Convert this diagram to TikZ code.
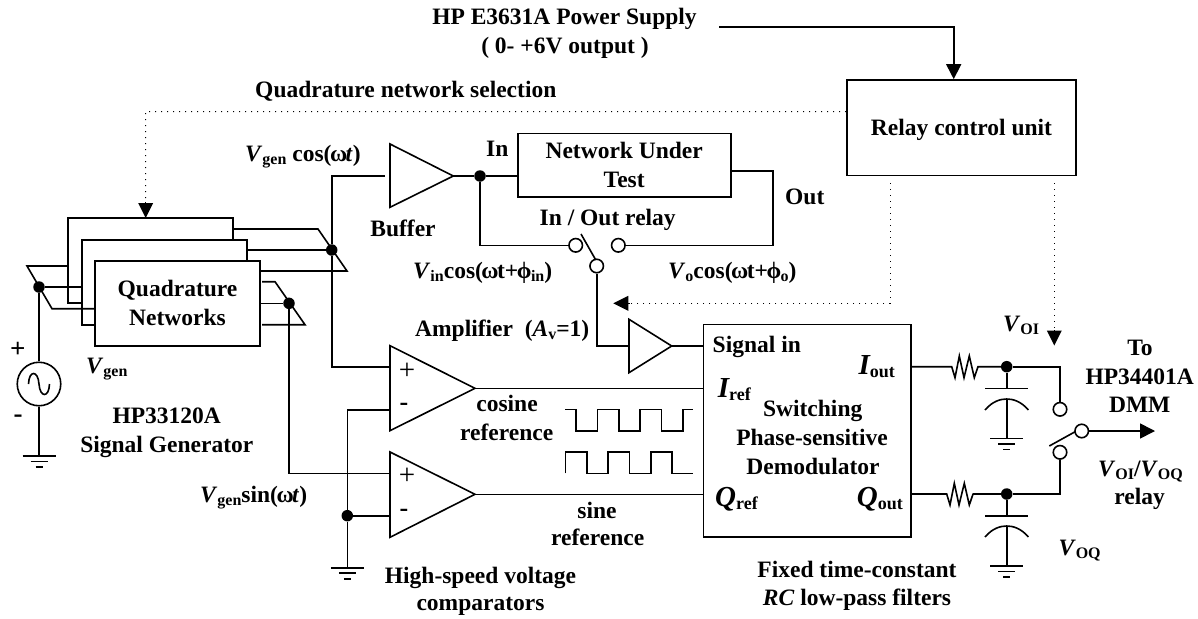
\documentclass[tikz,border=0pt]{standalone}
\usepackage{fontspec}
\setmainfont{Liberation Serif}
\usetikzlibrary{arrows.meta,calc}
\newcommand\ssub[2][16]{\raisebox{-3pt}{\fontsize{#1}{#1}\selectfont #2}}
\newcommand\bigit[1]{{\fontsize{29}{30}\selectfont\itshape #1}}
\newcommand\omg{\kern-1.5pt ω\kern-1.5pt}
\newcommand\phig{\kern-1.5pt ϕ\kern-0.5pt}
\tikzset{
  wire/.style={line width=1.6pt,line join=miter},
  box/.style={draw,line width=1.6pt,rectangle,inner sep=0pt,align=center,fill=white},
  txt/.style={inner sep=0pt,anchor=base},
  txtl/.style={inner sep=0pt,anchor=base west},
  jdot/.style={circle,fill=black,inner sep=0pt,minimum size=11.5pt},
  term/.style={circle,draw,line width=1.6pt,inner sep=0pt,minimum size=13.5pt,fill=white},
  dots/.style={line width=1pt,dash pattern=on 1pt off 5pt},
  head/.style={-{Triangle[length=15pt,width=15pt]}},
  gnd/.pic={
    \draw[wire] (-16.5,0) -- (16.5,0);
    \draw[wire] (-8.5,5.5) -- (8.5,5.5);
    \draw[wire] (-3.5,11) -- (3.5,11);
  }
}
\begin{document}
\begin{tikzpicture}[x=1pt,y=-1pt,every node/.append style={font=\bfseries\fontsize{23.5}{28.5}\selectfont}]
\useasboundingbox (0,0) rectangle (1198,618);

% ---- Quadrature network stack
\node[box,minimum width=165pt,minimum height=85pt] (q1) at (150.5,260.5) {};
\node[box,minimum width=165pt,minimum height=85pt] (q2) at (164.5,282.5) {};
\node[box,minimum width=165pt,minimum height=85pt] (q3) at (177.5,303.2) {Quadrature\\Networks};

% ---- Coordinates of connectors
\coordinate (pl1) at (68,266);
\coordinate (pl2) at (27,266);
\coordinate (pl3) at (52,308.7);
\node[jdot] (jl) at (39,287) {};
\coordinate (pr1) at (318,229);
\coordinate (pr2) at (347,271);
\node[jdot] (ju) at (331.7,250) {};
\coordinate (ps1) at (262,281.7);
\coordinate (ps2) at (275,281.7);
\coordinate (ps3) at (305,324.7);
\coordinate (ps4) at (262,324.7);
\node[jdot] (js) at (289,303.3) {};

% fan-out wires
\draw[wire] (pl1) -- (pl2) -- (pl3) -- (q3.west |- pl3);
\draw[wire] (jl) -- (q2.west |- jl);
\draw[wire] (q1.east |- pr1) -- (pr1) -- (pr2) -- (q3.east |- pr2);
\draw[wire] (q2.east |- ju) -- (ju);
\draw[wire] (ps1) -- (ps2) -- (ps3) -- (ps4);
\draw[wire] (q3.east |- js) -- (js);

% ---- Source
\node[circle,draw,line width=1.6pt,inner sep=0pt,minimum size=43.5pt] (src) at (39,384) {};
\draw[wire] (28.5,384) .. controls (29,370) and (38,370) .. (39,384) .. controls (40,398) and (49,398) .. (49.5,384);
\coordinate (g0) at (39,456);
\draw[wire] (jl) -- (src);
\draw[wire] (src) -- (g0);
\pic at (g0) {gnd};
\node[inner sep=0pt,font=\bfseries\fontsize{27}{27}\selectfont] (plus0) at (17.7,350) {+};
\node[inner sep=0pt,font=\bfseries\fontsize{27}{27}\selectfont] (minus0) at (18,419) {-};

% ---- Buffer
\coordinate (ba) at (390,144);
\coordinate (bb) at (390,207.3);
\coordinate (bt) at (453.3,176);
\coordinate (bi) at (385,176);
\draw[wire] (ba) -- (bt) -- (bb) -- cycle;
\node[jdot] (jin) at (480,176) {};
\node[box,minimum width=213pt,minimum height=63.7pt] (nut) at (624.2,165.2) {Network Under\\Test};
\draw[wire] (bt) -- (jin) -- (nut.west |- jin);

% ---- In/out relay
\node[term] (swa) at (575.7,245.3) {};
\node[term] (swb) at (618.3,245.3) {};
\node[term] (swc) at (596.7,266) {};
\coordinate (ar1) at (581,234);
\coordinate (ar2) at (595.5,259.5);
\coordinate (nout) at (772.7,170.7);
\draw[wire] (ar1) -- (ar2);
\draw[wire] (jin) |- (swa);
\draw[wire] (nut.east |- nout) -- (nout) |- (swb);

% ---- Amplifier
\coordinate (aa) at (629,319.3);
\coordinate (ab) at (629,372.7);
\coordinate (at) at (671.7,346);
\draw[wire] (aa) -- (at) -- (ab) -- cycle;
\draw[wire] (swc) |- (aa |- at);

% ---- Demodulator
\node[box,minimum width=207.4pt,minimum height=212.6pt] (dem) at (807,430.6) {};
\draw[wire] (at) -- (dem.west |- at);

% ---- Comparators
\coordinate (c1a) at (390,345.7);
\coordinate (c1b) at (390,430.7);
\coordinate (c1t) at (475,388.3);
\coordinate (c2a) at (390,452);
\coordinate (c2b) at (390,537.3);
\coordinate (c2t) at (475,494.3);
\draw[wire] (c1a) -- (c1t) -- (c1b) -- cycle;
\draw[wire] (c2a) -- (c2t) -- (c2b) -- cycle;
\draw[wire] (c1t) -- (dem.west |- c1t);
\draw[wire] (c2t) -- (dem.west |- c2t);
\coordinate (c1p) at (390,366.7);
\coordinate (c1m) at (390,410);
\coordinate (c2p) at (390,473.3);
\coordinate (c2m) at (390,515.7);
\node[jdot] (jm) at (347.3,515.7) {};
\coordinate (g1) at (347.3,567.7);
\draw[wire] (bi) -- (bi -| ju) -- (ju) -- (ju |- c1p) -- (c1p);
\draw[wire] (js) |- (c2p);
\draw[wire] (c1m) -| (jm);
\draw[wire] (jm) -- (c2m);
\draw[wire] (jm) -- (g1);
\pic at (g1) {gnd};
\node[inner sep=0pt,font=\fontsize{29}{29}\selectfont\mdseries] (p1) at (407,371) {+};
\node[inner sep=0pt,font=\bfseries\fontsize{26}{26}\selectfont] (m1) at (404,407) {-};
\node[inner sep=0pt,font=\fontsize{29}{29}\selectfont\mdseries] (p2) at (407,476) {+};
\node[inner sep=0pt,font=\bfseries\fontsize{26}{26}\selectfont] (m2) at (404,512.7) {-};

% ---- Square waves
\draw[wire] (565.3,409.3) -- (576,409.3) -- (576,430.7) -- (597.3,430.7) -- (597.3,409.3) -- (618.7,409.3) -- (618.7,430.7) -- (640,430.7) -- (640,409.3) -- (661.3,409.3) -- (661.3,430.7) -- (682.7,430.7) -- (682.7,409.3) -- (693.3,409.3);
\draw[wire] (565.3,473.3) -- (565.3,452) -- (586.7,452) -- (586.7,473.3) -- (608,473.3) -- (608,452) -- (629.3,452) -- (629.3,473.3) -- (650.7,473.3) -- (650.7,452) -- (672,452) -- (672,473.3) -- (693.3,473.3);

% ---- Relay control
\node[box,minimum width=229pt,minimum height=95.7pt,text height=14.4pt,text depth=0pt] (relay) at (961.5,127.8) {Relay control unit};
\coordinate (pw1) at (719,27);
\coordinate (pw2) at (953.7,27);
\draw[wire,head] (pw1) -- (pw2) -- (pw2 |- relay.north);
\coordinate (qd) at (145.7,111.7);
\coordinate (qe) at (145.7,218);
\draw[dots] (relay.west |- qd) -- (qd) -- ($(qd)!0.85!(qe)$);
\draw[line width=0pt,head] ($(qd)!0.85!(qe)$) -- (qe);
\coordinate (d1a) at (890,183);
\coordinate (d1b) at (890,303.3);
\coordinate (d1c) at (629,303.3);
\coordinate (d1d) at (613.3,303.3);
\draw[dots] (d1a) -- (d1b) -- (d1c);
\draw[line width=0pt,head] (d1c) -- (d1d);
\coordinate (d2a) at (1054.3,183);
\coordinate (d2b) at (1054.3,331);
\coordinate (d2c) at (1054.3,345.5);
\draw[dots] (d2a) -- (d2b);
\draw[line width=0pt,head] (d2b) -- (d2c);

% ---- Filters
\coordinate (ia) at (951.7,366.7);
\coordinate (ib) at (978,366.7);
\coordinate (qa) at (946.7,494);
\coordinate (qb) at (972.7,494);
\node[jdot] (ji) at (1006.7,366.7) {};
\node[jdot] (jq) at (1006.7,494) {};
\draw[wire] (dem.east |- ia) -- (ia) -- ++(3.3,11) -- ++(4.3,-21.7) -- ++(4.7,21.7) -- ++(5.3,-21.7) -- ++(5,21.7) -- ++(3.7,-11) -- (ib) -- (ji);
\draw[wire] (dem.east |- qa) -- (qa) -- ++(3.3,11) -- ++(4.3,-21.7) -- ++(4.7,21.7) -- ++(5.3,-21.7) -- ++(5,21.7) -- ++(3.7,-11) -- (qb) -- (jq);
% capacitors
\coordinate (ci1) at (1006.7,388.3);
\coordinate (ci2) at (1006.7,399);
\coordinate (gi) at (1006.7,438.3);
\draw[wire] (ji) -- (ci1);
\draw[wire] ($(ci1)+(-21.7,0)$) -- ($(ci1)+(21.7,0)$);
\draw[wire] ($(ci2)+(-21.7,11)$) .. controls ($(ci2)+(-14,2)$) and ($(ci2)+(-6,0)$) .. (ci2) .. controls ($(ci2)+(6,0)$) and ($(ci2)+(14,2)$) .. ($(ci2)+(21.7,11)$);
\draw[wire] (ci2) -- (gi);
\pic at (gi) {gnd};
\coordinate (cq1) at (1006.7,516);
\coordinate (cq2) at (1006.7,526);
\coordinate (gq) at (1006.7,566);
\draw[wire] (jq) -- (cq1);
\draw[wire] ($(cq1)+(-21.7,0)$) -- ($(cq1)+(21.7,0)$);
\draw[wire] ($(cq2)+(-21.7,11)$) .. controls ($(cq2)+(-14,2)$) and ($(cq2)+(-6,0)$) .. (cq2) .. controls ($(cq2)+(6,0)$) and ($(cq2)+(14,2)$) .. ($(cq2)+(21.7,11)$);
\draw[wire] (cq2) -- (gq);
\pic at (gq) {gnd};

% ---- Output relay
\node[term] (sa) at (1060,409.3) {};
\node[term] (sb) at (1060,452.3) {};
\node[term] (sc) at (1081.7,431) {};
\coordinate (oa) at (1049.3,446);
\coordinate (ob) at (1075.5,431.5);
\coordinate (oc) at (1155,431);
\draw[wire] (ji) -| (sa);
\draw[wire] (jq) -| (sb);
\draw[wire] (oa) -- (ob);
\draw[wire,head] (sc) -- (oc);

% ---- Texts
\node[txt] (t1) at (564.5,25) {HP E3631A Power Supply};
\node[txt] (t2) at (565,53) {( 0- +6V output )};
\node[txt] (t3) at (405.8,97) {Quadrature network selection};
\node[txtl] (t4) at (245,161.7) {\textit{V}\ssub{gen} cos(\omg\textit{t})};
\node[txt] (t5) at (403,236) {Buffer};
\node[txtl] (t6) at (486,156) {In};
\node[txtl] (t7) at (785,204) {Out};
\node[txt] (t8) at (607.7,225) {In / Out relay};
\node[txtl] (t9) at (413,278) {\textit{V}\ssub{in}cos(\omg t+\phig\ssub{in})};
\node[txtl] (t10) at (668,278) {\textit{V}\ssub{o}cos(\omg t+\phig\ssub{o})};
\node[txtl] (t11) at (415,336.7) {Amplifier\ \ (\textit{A}\ssub{v}=1)};
\node[txtl] (t12) at (712.5,352.7) {Signal in};
\node[txtl] (t13) at (717.7,397) {\bigit{I}\ssub[18]{ref}};
\node[txtl] (t14) at (715,506.7) {\bigit{Q}\ssub[18]{ref}};
\node[txtl] (t15) at (858.3,374) {\bigit{I}\ssub[18]{out}};
\node[txtl] (t16) at (856.7,506.7) {\bigit{Q}\ssub[18]{out}};
\node[txt] (t17) at (812.7,416.7) {Switching};
\node[txt] (t18) at (812,445.7) {Phase-sensitive};
\node[txt] (t19) at (813,474) {Demodulator};
\node[txtl] (t20) at (86,373.3) {\textit{V}\ssub{gen}};
\node[txt] (t21) at (166.7,423) {HP33120A};
\node[txt] (t22) at (166.8,452.3) {Signal Generator};
\node[txt] (t23) at (507,411) {cosine};
\node[txt] (t24) at (506.7,440) {reference};
\node[txt] (t25) at (597,518) {sine};
\node[txt] (t26) at (597.7,545.7) {reference};
\node[txt] (t27) at (480.5,583.3) {High-speed voltage};
\node[txt] (t28) at (480.5,610.5) {comparators};
\node[txtl] (t29) at (200,502.3) {\textit{V}\ssub{gen}sin(\omg\textit{t})};
\node[txtl] (t30) at (1003,331.7) {\textit{V}\ssub{OI}};
\node[txtl] (t31) at (1058.3,555) {\textit{V}\ssub{OQ}};
\node[txt] (t32) at (1140,355) {To};
\node[txt] (t33) at (1139.7,384) {HP34401A};
\node[txt] (t34) at (1139.7,412.7) {DMM};
\node[txt] (t35) at (1140.5,476.7) {\textit{V}\ssub{OI}/\textit{V}\ssub{OQ}};
\node[txt] (t36) at (1139.7,504) {relay};
\node[txt] (t37) at (857,577.3) {Fixed time-constant};
\node[txt] (t38) at (857,605.7) {\textit{RC} low-pass filters};
\end{tikzpicture}
\end{document}
